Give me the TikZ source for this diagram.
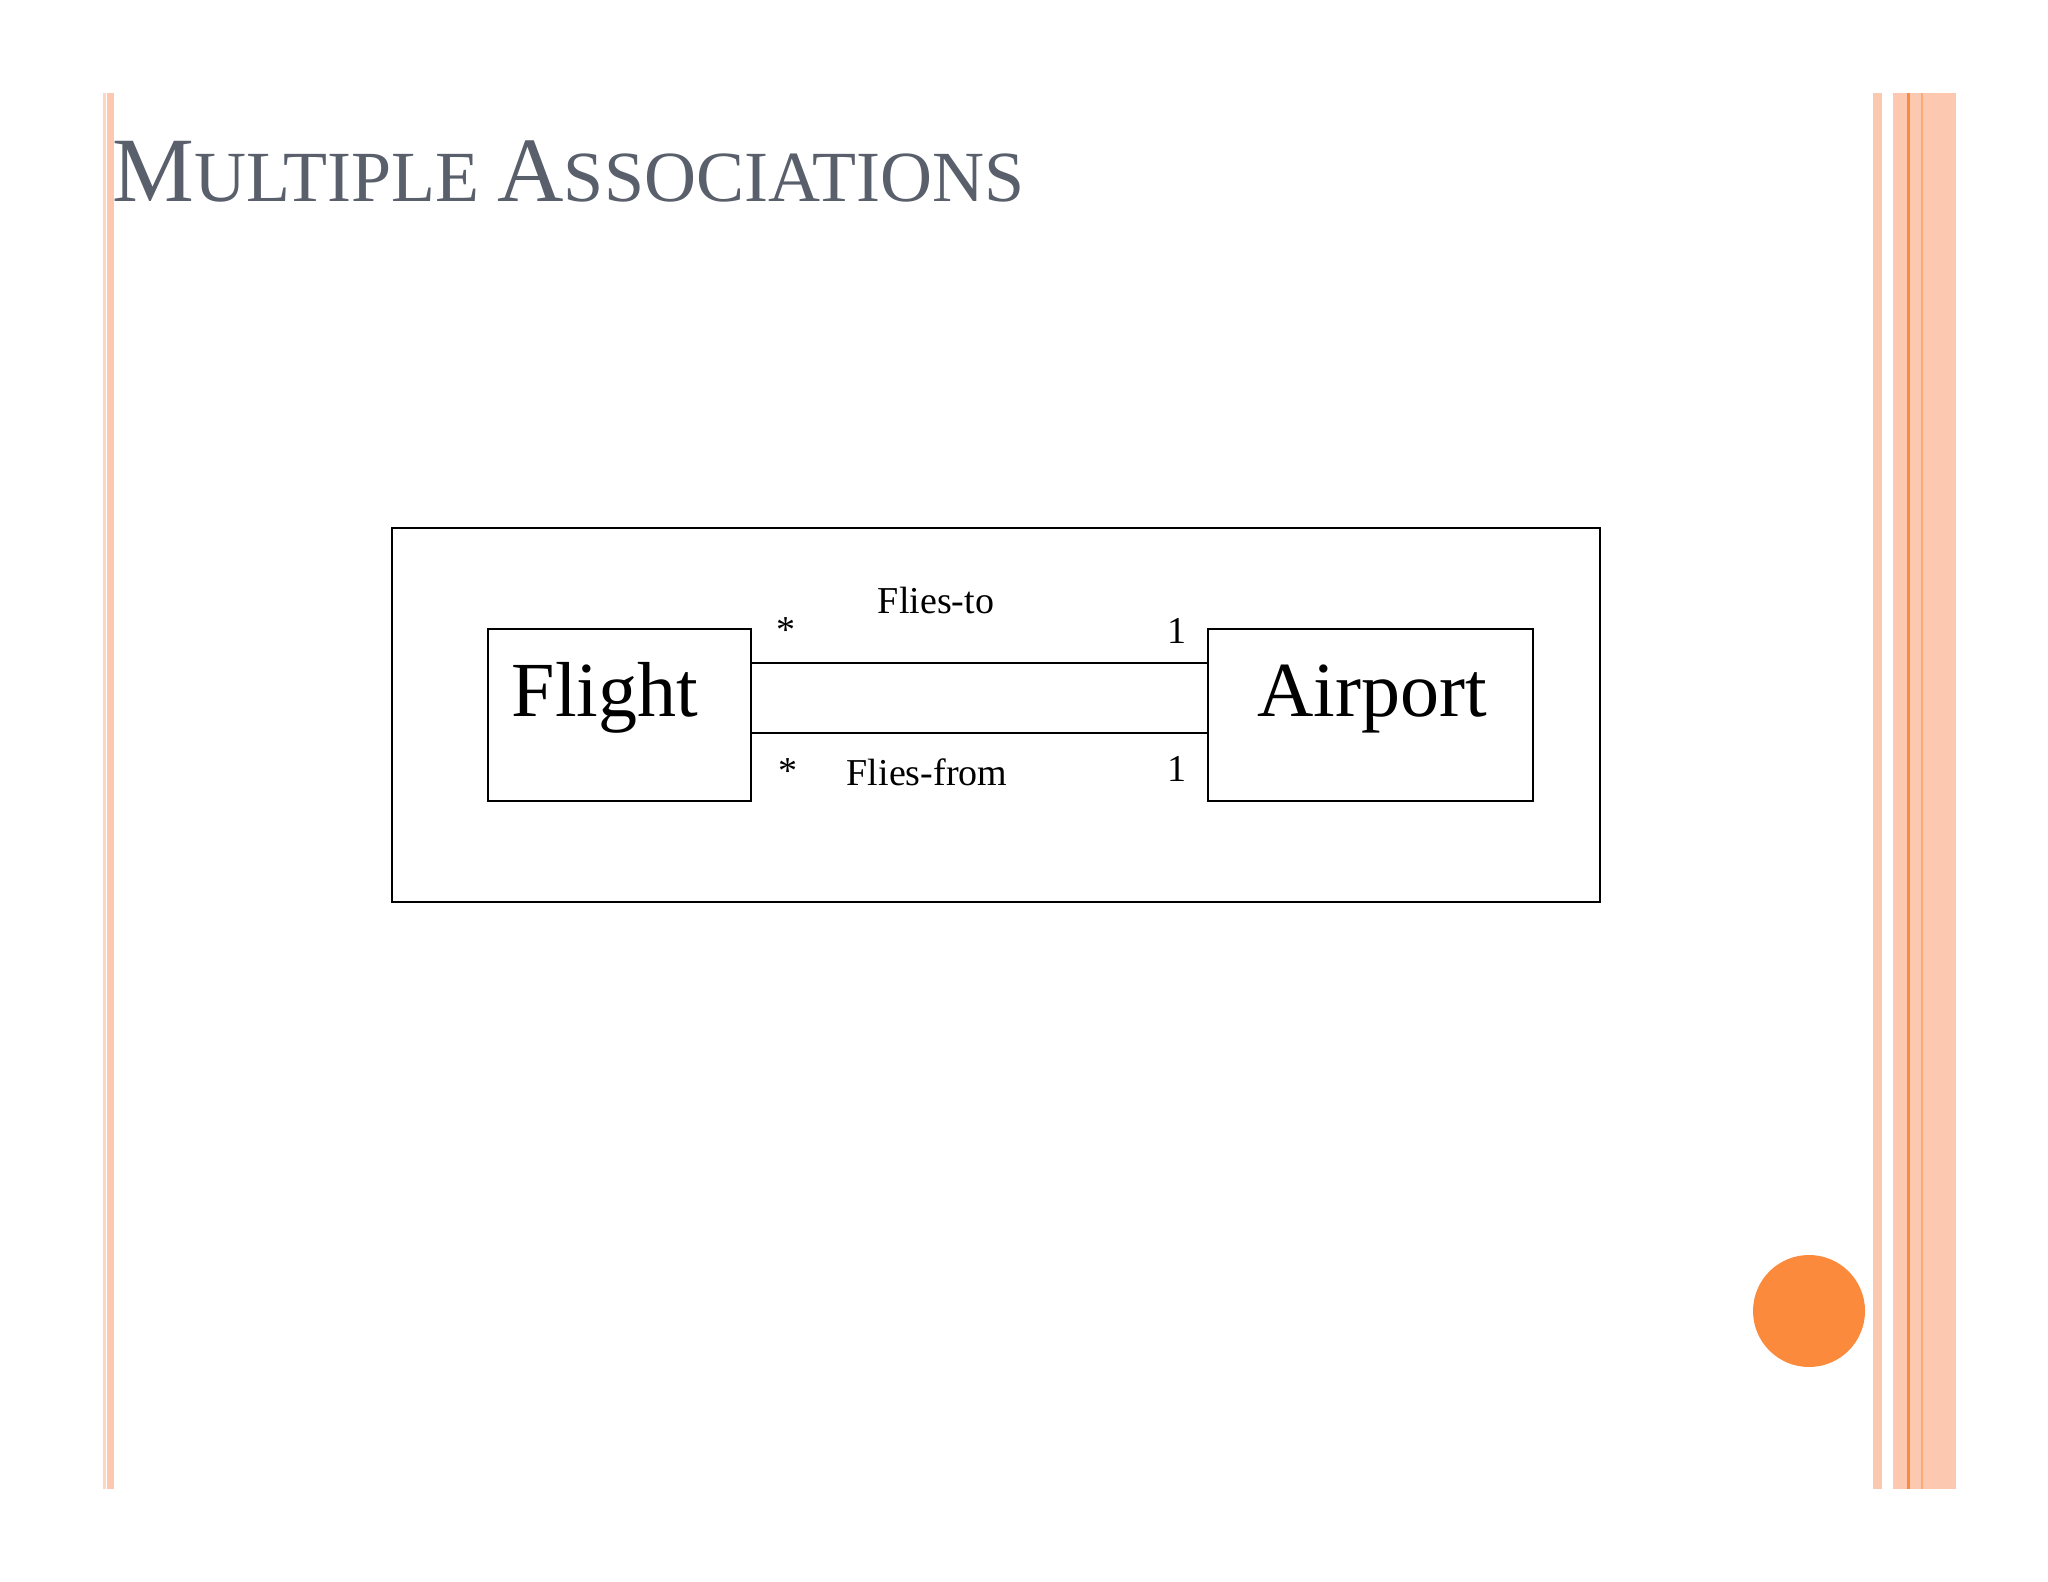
\documentclass[tikz,border=0pt]{standalone}
\usepackage{fontspec}
\setmainfont{Liberation Serif}
\definecolor{peach}{HTML}{FCC8B0}
\definecolor{peachlt}{HTML}{FDD5C2}
\definecolor{orng}{HTML}{FB8A3C}
\definecolor{titlegray}{HTML}{595F6B}
\tikzset{cls/.style={draw,line width=1.3pt},lbl/.style={font=\fontsize{19}{22}\selectfont}}
\begin{document}
\begin{tikzpicture}[x=0.5pt,y=-0.5pt]
\useasboundingbox (0,0) rectangle (2048,1582);
% stripes
\fill[peachlt] (103,93) rectangle (106,1489);
\fill[peach] (107,93) rectangle (114,1489);
\fill[peach] (1873,93) rectangle (1882,1489);
\fill[peach] (1893,93) rectangle (1956,1489);
\fill[orng] (1907,93) rectangle (1910,1489);
\fill[orng!50!peach] (1921,93) rectangle (1923,1489);
% title
\node[anchor=base west,inner sep=0,text=titlegray] (title) at (112,202)
 {{\fontsize{46}{50}\selectfont M}{\fontsize{36}{40}\selectfont ULTIPLE }{\fontsize{46}{50}\selectfont A}{\fontsize{36}{40}\selectfont SSOCIATIONS}};
% frame
\draw[line width=1.3pt] (392,528) rectangle (1600,902);
\node[cls,minimum width=131.5pt,minimum height=86pt,inner sep=0] (flight) at (619.5,715) {};
\node[cls,minimum width=162.5pt,minimum height=86pt,inner sep=0] (airport) at (1370.5,715) {};
\node[anchor=base,inner sep=0,font=\fontsize{39}{44}\selectfont] (ft) at (605,716) {Flight};
\node[anchor=base,inner sep=0,font=\fontsize{39}{44}\selectfont] (at) at (1372,716) {Airport};
\coordinate (f1) at (751,663); \coordinate (a1) at (1208,663);
\coordinate (f2) at (751,733); \coordinate (a2) at (1208,733);
\draw[line width=1.3pt] (f1) -- (a1);
\draw[line width=1.3pt] (f2) -- (a2);
\node[lbl] (l1) at (936,601) {Flies-to};
\node[lbl] (l2) at (927,772) {Flies-from};
\node[lbl] (s1) at (786,630) {*};
\node[lbl] (s2) at (788,771) {*};
\node[lbl] (o1) at (1177,631) {1};
\node[lbl] (o2) at (1177,769) {1};
\fill[orng] (1809,1311) circle (28pt);
\end{tikzpicture}
\end{document}
